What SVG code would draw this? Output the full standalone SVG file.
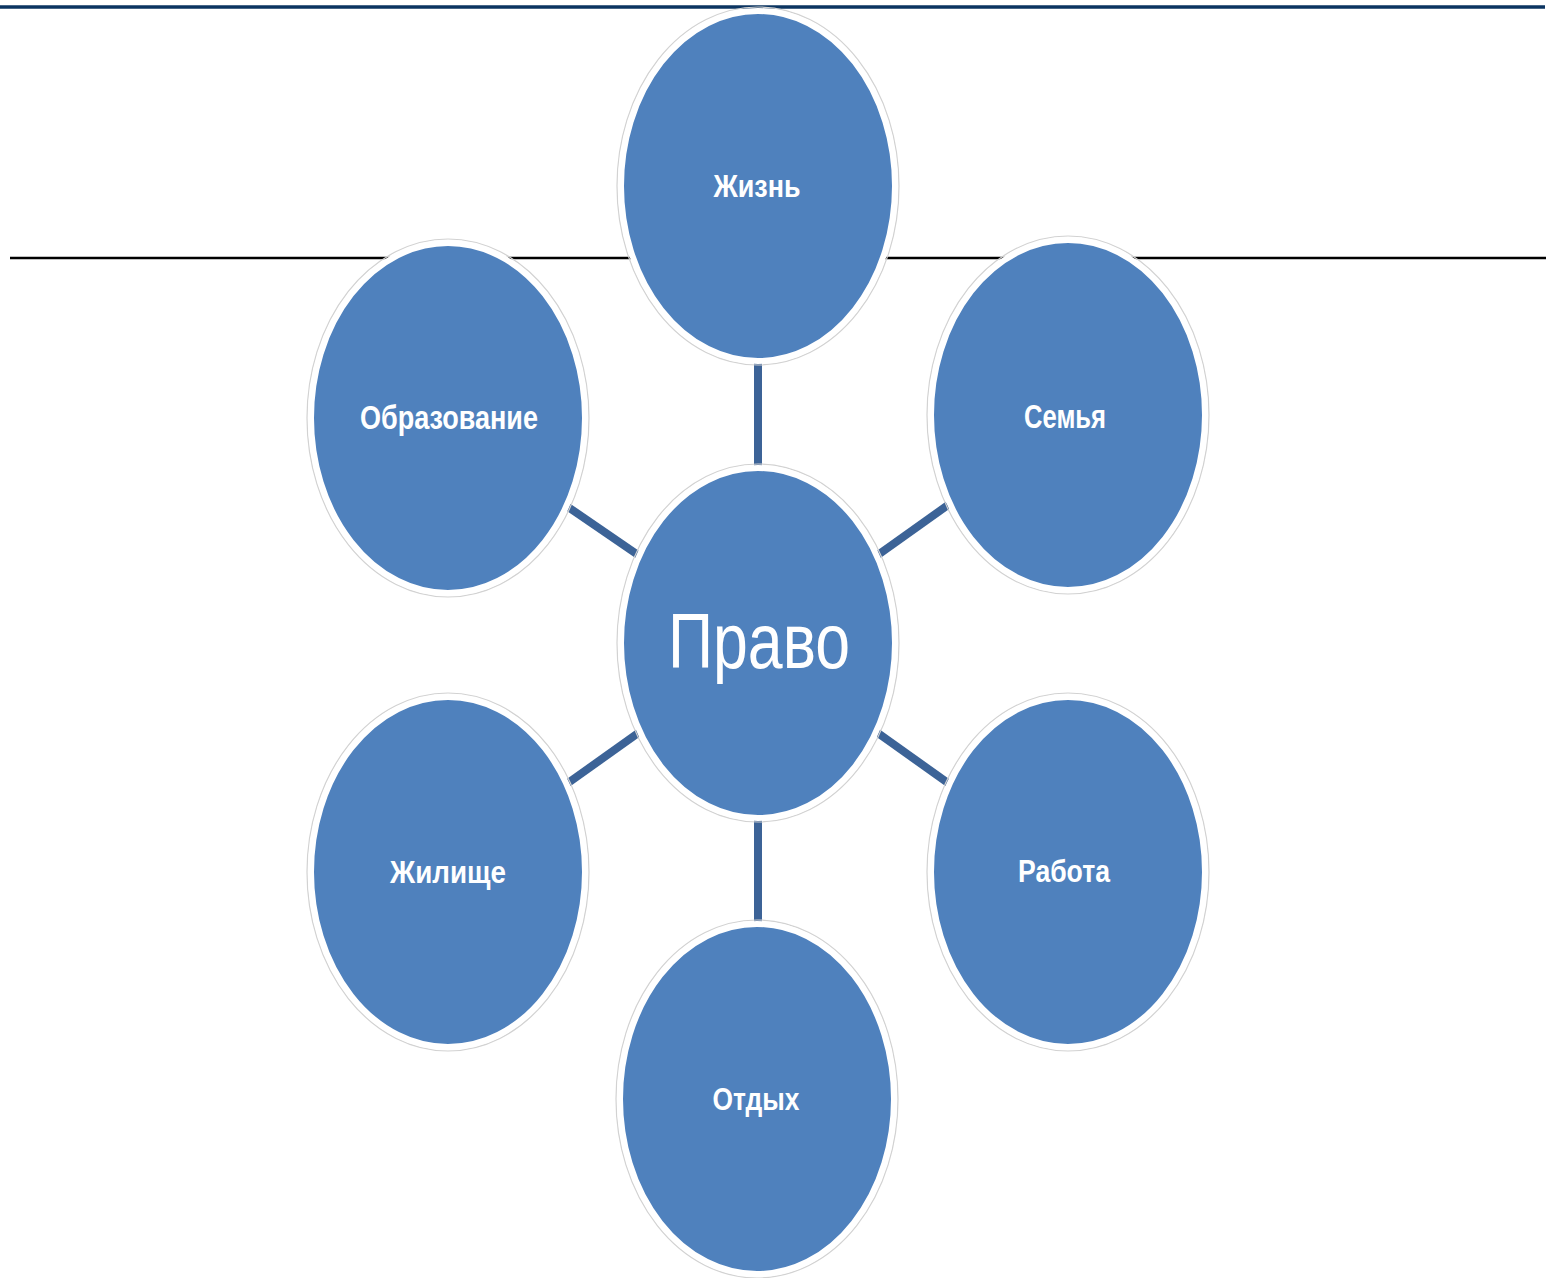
<svg xmlns="http://www.w3.org/2000/svg" width="1546" height="1278" viewBox="0 0 1546 1278">
  <style>
    .halo { fill: none; stroke: #d2d2d2; stroke-width: 1.2; }
    .node { fill: #4f81bd; stroke: #ffffff; stroke-width: 6; }
    .conn { stroke: #3c6397; stroke-width: 8; fill: none; }
    .lbl { fill: #ffffff; font-family: "Liberation Sans", Arial, sans-serif; font-weight: bold; text-anchor: middle; }
    .big { fill: #ffffff; font-family: "Liberation Sans", Arial, sans-serif; font-weight: normal; text-anchor: middle; }
  </style>
  <rect x="0" y="0" width="1546" height="1278" fill="#ffffff"/>
  <line x1="0" y1="7" x2="1545" y2="7" stroke="#0b3461" stroke-width="3.5"/>
  <line x1="10" y1="258" x2="1546" y2="258" stroke="#000000" stroke-width="2.5"/>

  <g id="connectors">
    <line class="conn" x1="758" y1="362" x2="758" y2="472"/>
    <line class="conn" x1="758" y1="812" x2="758" y2="922"/>
    <line class="conn" x1="568" y1="507" x2="641" y2="557"/>
    <line class="conn" x1="948" y1="505" x2="875" y2="557"/>
    <line class="conn" x1="568" y1="783" x2="641" y2="731"/>
    <line class="conn" x1="948" y1="783" x2="875" y2="731"/>
  </g>

  <g id="node-zhizn">
    <ellipse class="halo" cx="758" cy="186" rx="141" ry="179"/>
    <ellipse class="node" cx="758" cy="186" rx="137" ry="175"/>
    <text class="lbl" x="757" y="197" font-size="31" textLength="87" lengthAdjust="spacingAndGlyphs">Жизнь</text>
  </g>
  <g id="node-obrazovanie">
    <ellipse class="halo" cx="448" cy="418" rx="141" ry="179"/>
    <ellipse class="node" cx="448" cy="418" rx="137" ry="175"/>
    <text class="lbl" x="449" y="429" font-size="34" textLength="178" lengthAdjust="spacingAndGlyphs">Образование</text>
  </g>
  <g id="node-semya">
    <ellipse class="halo" cx="1068" cy="415" rx="141" ry="179"/>
    <ellipse class="node" cx="1068" cy="415" rx="137" ry="175"/>
    <text class="lbl" x="1065" y="428" font-size="34" textLength="82" lengthAdjust="spacingAndGlyphs">Семья</text>
  </g>
  <g id="node-pravo">
    <ellipse class="halo" cx="758" cy="643" rx="141" ry="179"/>
    <ellipse class="node" cx="758" cy="643" rx="137" ry="175"/>
    <text class="big" x="759" y="668" font-size="77" textLength="182" lengthAdjust="spacingAndGlyphs">Право</text>
  </g>
  <g id="node-zhilische">
    <ellipse class="halo" cx="448" cy="872" rx="141" ry="179"/>
    <ellipse class="node" cx="448" cy="872" rx="137" ry="175"/>
    <text class="lbl" x="448" y="883" font-size="32" textLength="116" lengthAdjust="spacingAndGlyphs">Жилище</text>
  </g>
  <g id="node-rabota">
    <ellipse class="halo" cx="1068" cy="872" rx="141" ry="179"/>
    <ellipse class="node" cx="1068" cy="872" rx="137" ry="175"/>
    <text class="lbl" x="1064" y="882" font-size="32" textLength="92" lengthAdjust="spacingAndGlyphs">Работа</text>
  </g>
  <g id="node-otdyh">
    <ellipse class="halo" cx="757" cy="1099" rx="141" ry="179"/>
    <ellipse class="node" cx="757" cy="1099" rx="137" ry="175"/>
    <text class="lbl" x="756" y="1110" font-size="31" textLength="87" lengthAdjust="spacingAndGlyphs">Отдых</text>
  </g>
</svg>
